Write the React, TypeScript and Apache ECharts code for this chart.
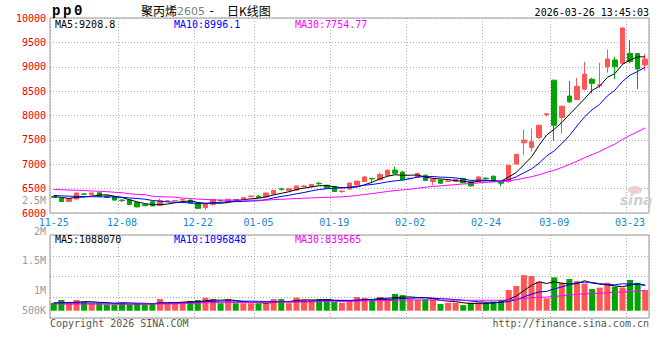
import React, { useEffect, useRef } from 'react';
import * as echarts from 'echarts';

const dates = ['11-25','11-26','11-27','11-28','12-01','12-02','12-03','12-04','12-05','12-08','12-09','12-10','12-11','12-12','12-15','12-16','12-17','12-18','12-19','12-22','12-23','12-24','12-25','12-26','12-29','12-30','12-31','01-05','01-06','01-07','01-08','01-09','01-12','01-13','01-14','01-15','01-16','01-19','01-20','01-21','01-22','01-23','01-26','01-27','01-28','01-29','01-30','02-02','02-03','02-04','02-05','02-06','02-09','02-10','02-11','02-12','02-13','02-24','02-25','02-26','02-27','03-02','03-03','03-04','03-05','03-06','03-09','03-10','03-11','03-12','03-13','03-16','03-17','03-18','03-19','03-20','03-23','03-24','03-25'];

const xLabelDates = ['11-25','12-08','12-22','01-05','01-19','02-02','02-24','03-09','03-23'];

const opens = [6340,6300,6235,6285,6390,6375,6415,6350,6340,6265,
 6270,6215,6170,6230,6160,6240,6250,6265,6265,6200,
 6110,6180,6260,6235,6275,6300,6335,6345,6330,6390,
 6495,6460,6470,6545,6540,6610,6570,6540,6440,6490,
 6575,6645,6710,6680,6765,6880,6840,6705,6730,6775,
 6645,6675,6648,6650,6710,6640,6640,6715,6755,6645,
 6640,7005,7440,7345,7550,8020,8725,7960,8400,8330,
 8540,8745,8615,9000,9140,9070,9275,9270,9035];

const closes = [6320,6235,6290,6410,6385,6410,6340,6320,6265,6255,
 6175,6125,6150,6145,6250,6250,6258,6275,6200,6095,
 6175,6275,6250,6280,6260,6315,6345,6320,6410,6465,
 6480,6500,6555,6555,6585,6600,6510,6440,6450,6615,
 6655,6740,6700,6790,6880,6815,6680,6712,6810,6665,
 6690,6610,6656,6690,6620,6555,6740,6705,6660,6610,
 6980,7205,7495,7460,7800,8035,7800,8190,8280,8600,
 8850,8660,8630,9160,9000,9795,9105,8955,9158];

const lows = [6305,6225,6225,6280,6370,6370,6335,6310,6255,6225,
 6170,6120,6140,6140,6155,6230,6240,6255,6190,6085,
 6060,6150,6235,6230,6250,6290,6325,6310,6325,6385,
 6460,6450,6465,6530,6535,6580,6500,6430,6410,6485,
 6570,6640,6610,6675,6760,6810,6670,6695,6725,6655,
 6570,6600,6640,6645,6610,6545,6635,6690,6650,6550,
 6630,7000,7190,7260,7520,7980,7480,7630,8260,8315,
 8520,8455,8560,8880,8750,9055,9070,8540,8920];

const highs = [6350,6310,6295,6415,6400,6420,6420,6360,6345,6285,
 6280,6225,6180,6240,6300,6265,6270,6290,6275,6210,
 6180,6280,6275,6290,6285,6330,6365,6370,6415,6470,
 6520,6505,6560,6570,6590,6640,6575,6545,6465,6620,
 6660,6760,6720,6830,6885,6950,6860,6725,6830,6790,
 6700,6690,6670,6700,6720,6650,6750,6725,6770,6655,
 6985,7210,7715,7735,7810,8045,8730,8200,8710,8775,
 9100,8775,9080,9355,9205,9800,9545,9275,9260];

const volumes = [340000,460000,320000,460000,370000,320000,320000,270000,270000,320000,
 270000,320000,270000,320000,500000,320000,320000,370000,420000,460000,
 560000,500000,320000,500000,320000,320000,320000,320000,320000,500000,
 500000,320000,560000,460000,460000,500000,460000,370000,340000,460000,
 590000,550000,460000,590000,490000,720000,670000,490000,460000,490000,
 490000,290000,340000,340000,240000,340000,340000,340000,390000,460000,
 890000,1060000,1530000,1490000,1240000,530000,1430000,1200000,1360000,1270000,
 1170000,930000,990000,1200000,1030000,990000,1320000,1200000,890000];

// moving-average values before enough visible history exists
const ma5Head = [6335, 6320, 6300, 6320];
const ma10Head = [6360, 6352, 6345, 6340, 6335, 6335, 6332, 6330, 6328];
const ma30Head = [6483,6478,6470,6468,6460,6452,6446,6438,6425,6415,6395,6383,6375,6345,6335,6330,6325,6305,6298,6285,6278,6270,6265,6263,6263,6262,6262,6263,6265];
const volMa5Head = [330000, 340000, 350000, 360000];
const volMa10Head = [330000,330000,330000,330000,330000,330000,330000,325000,325000];
const volMa30Head = [285000,285000,284000,284000,283000,283000,282000,282000,282000,283000,283000,284000,284000,285000,286000,290000,296000,305000,315000,330000,340000,345000,348000,350000,352000,354000,356000,358000,360000];

const priceMaLabels = ['MA5:9208.8', 'MA10:8996.1', 'MA30:7754.77'];
const volMaLabels = ['MA5:1088070', 'MA10:1096848', 'MA30:839565'];
const volAxisLabels = ['2M', '1.5M', '1M', '500K'];
const extraPriceLabel = '2.5M';
const titleParts = ['聚丙烯', '2605', '-', '日K线图'];
const codeChars = ['p', 'p', '0'];
const timeStamp = '2026-03-26 13:45:03';
const copyright = 'Copyright 2026 SINA.COM';
const url = 'http://finance.sina.com.cn';

function movingAverage(values: number[], n: number, head: number[]) {
  return values.map((_, i) => {
    if (i < n - 1) return head[i];
    let s = 0;
    for (let k = i - n + 1; k <= i; k++) s += values[k];
    return +(s / n).toFixed(2);
  });
}

const RED = '#ff5656';
const GREEN = '#00a600';
const MONO = 'DejaVu Sans Mono';
const GRID_LINE = { color: '#aaaaaa', type: [1, 2] as any, width: 1 };

export default function App() {
  const ref = useRef<HTMLDivElement>(null);
  useEffect(() => {
    const chart = echarts.init(ref.current!, null, { renderer: 'svg' });
    const labelIdx = new Set(xLabelDates.map((d) => dates.indexOf(d)));
    const ma5 = movingAverage(closes, 5, ma5Head);
    const ma10 = movingAverage(closes, 10, ma10Head);
    const ma30 = movingAverage(closes, 30, ma30Head);
    const vma5 = movingAverage(volumes, 5, volMa5Head);
    const vma10 = movingAverage(volumes, 10, volMa10Head);
    const vma30 = movingAverage(volumes, 30, volMa30Head);

    const txt = (x: number, y: number, text: string, fill: string, opts: any = {}) => ({
      type: 'text', x, y, silent: true, z: 100,
      style: {
        text, fill, fontSize: opts.fontSize ?? 10, fontFamily: opts.fontFamily ?? MONO,
        fontWeight: opts.fontWeight ?? 'normal', fontStyle: opts.fontStyle ?? 'normal',
        textAlign: opts.align ?? 'left', textVerticalAlign: 'middle',
        lineHeight: opts.lineHeight ?? 8,
      },
    });

    const maColors = ['#000000', '#0000ff', '#ff00ff'];
    const maX = [55, 174, 295];
    const volLabelY = [231.5, 260.7, 290.7, 310];

    const graphic: any[] = [
      ...codeChars.map((c, i) => txt(52 + i * 11, 11, c, '#000', { fontSize: 14, fontWeight: 'bold', fontFamily: 'Liberation Mono', lineHeight: 12 })),
      txt(141, 10.5, titleParts[0], '#000', { fontSize: 12, fontFamily: 'Noto Sans CJK SC', lineHeight: 12 }),
      txt(177, 11, titleParts[1], '#808080', { fontSize: 11, fontFamily: 'DejaVu Sans', lineHeight: 11 }),
      txt(208, 10.5, titleParts[2], '#000', { fontSize: 12, lineHeight: 12 }),
      txt(227, 10.5, titleParts[3], '#000', { fontSize: 12, fontFamily: 'Noto Sans CJK SC', lineHeight: 12 }),
      txt(649, 12, timeStamp, '#000', { align: 'right' }),
      ...priceMaLabels.map((t, i) => txt(maX[i], 24, t, maColors[i])),
      ...volMaLabels.map((t, i) => txt(maX[i], 239, t, maColors[i])),
      ...volAxisLabels.map((t, i) => txt(46, volLabelY[i], t, '#999999', { align: 'right' })),
      txt(46, 200, extraPriceLabel, '#999999', { align: 'right' }),
      txt(50, 323.5, copyright, '#555555'),
      txt(649, 323.5, url, '#555555', { align: 'right' }),
      {
        type: 'ellipse', silent: true, z: 1,
        shape: { cx: 635, cy: 190, rx: 7, ry: 4 },
        style: { fill: '#e8c4c4', opacity: 0.8 },
      },
      txt(620, 200, 'sina', '#cfcfcf', { fontSize: 14, fontWeight: 'bold', fontStyle: 'italic', fontFamily: 'DejaVu Sans', lineHeight: 12 }),
    ];

    const option: any = {
      animation: false,
      backgroundColor: '#ffffff',
      grid: [
        { left: 50, right: 11, top: 18, height: 195, show: true, borderColor: '#999999', borderWidth: 1, backgroundColor: 'transparent' },
        { left: 50, right: 11, top: 235, height: 83, show: true, borderColor: '#999999', borderWidth: 1, backgroundColor: 'transparent' },
      ],
      xAxis: [
        {
          type: 'category', gridIndex: 0, data: dates, boundaryGap: true,
          axisLine: { show: false }, axisTick: { show: false },
          axisLabel: {
            interval: (i: number) => labelIdx.has(i), color: '#1a86d0', fontFamily: MONO,
            fontSize: 10, margin: 5, lineHeight: 8, hideOverlap: false,
          },
          splitLine: { show: true, interval: (i: number) => labelIdx.has(i), lineStyle: GRID_LINE },
        },
        {
          type: 'category', gridIndex: 1, data: dates, boundaryGap: true,
          axisLine: { show: false }, axisTick: { show: false }, axisLabel: { show: false },
          splitLine: { show: true, interval: (i: number) => labelIdx.has(i), lineStyle: GRID_LINE },
        },
      ],
      yAxis: [
        {
          type: 'value', gridIndex: 0, min: 6000, max: 10000, interval: 500,
          axisLine: { show: false }, axisTick: { show: false },
          axisLabel: { color: '#ee0000', fontFamily: MONO, fontSize: 10, margin: 4, lineHeight: 8, formatter: (v: number) => String(v) },
          splitLine: { show: true, lineStyle: GRID_LINE },
        },
        {
          type: 'value', gridIndex: 1, min: -313000, max: 3251000, interval: 891000,
          axisLine: { show: false }, axisTick: { show: false }, axisLabel: { show: false },
          splitLine: { show: true, lineStyle: GRID_LINE },
        },
      ],
      series: [
        {
          type: 'candlestick', xAxisIndex: 0, yAxisIndex: 0, barWidth: 5,
          data: dates.map((_, i) => [opens[i], closes[i], lows[i], highs[i]]),
          itemStyle: { color: RED, color0: GREEN, borderColor: RED, borderColor0: GREEN, borderWidth: 1 },
        },
        { type: 'line', xAxisIndex: 0, yAxisIndex: 0, data: ma5, symbol: 'none', lineStyle: { color: maColors[0], width: 1 }, z: 3 },
        { type: 'line', xAxisIndex: 0, yAxisIndex: 0, data: ma10, symbol: 'none', lineStyle: { color: maColors[1], width: 1 }, z: 3 },
        { type: 'line', xAxisIndex: 0, yAxisIndex: 0, data: ma30, symbol: 'none', lineStyle: { color: maColors[2], width: 1 }, z: 3 },
        {
          type: 'bar', xAxisIndex: 1, yAxisIndex: 1, barWidth: 6,
          data: volumes.map((v, i) => ({ value: v, itemStyle: { color: closes[i] >= opens[i] ? RED : GREEN } })),
        },
        { type: 'line', xAxisIndex: 1, yAxisIndex: 1, data: vma5, symbol: 'none', lineStyle: { color: maColors[0], width: 1 }, z: 3 },
        { type: 'line', xAxisIndex: 1, yAxisIndex: 1, data: vma10, symbol: 'none', lineStyle: { color: maColors[1], width: 1 }, z: 3 },
        { type: 'line', xAxisIndex: 1, yAxisIndex: 1, data: vma30, symbol: 'none', lineStyle: { color: maColors[2], width: 1 }, z: 3 },
      ],
      graphic,
    };
    chart.setOption(option);
    return () => chart.dispose();
  }, []);
  return <div ref={ref} style={{ position: 'fixed', left: 0, top: 0, width: 660, height: 360, background: '#fff' }} />;
}
